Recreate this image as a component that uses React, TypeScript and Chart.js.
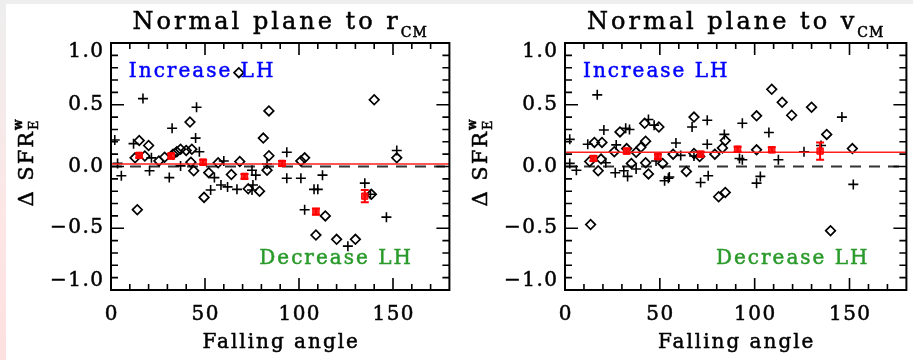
import React, { useEffect, useRef } from "react";
import { Chart, registerables } from "chart.js";

Chart.register(...registerables);

// ---------------- axes ----------------
const xRange = [0, 180];
const yRange = [-1, 1];
const xMajorTicks = [0, 50, 100, 150];
const xTickLabels = ["0", "50", "100", "150"];
const yMajorTicks = [-1, -0.5, 0, 0.5, 1];
const yTickLabels = ["\u22121.0", "\u22120.5", "0.0", "0.5", "1.0"];
const xTitle = "Falling angle";
const increaseText = "Increase LH";
const decreaseText = "Decrease LH";
const increaseAnchor = [9.5, 0.765];
const decreaseAnchor = [159.5, -0.75];

// ---------------- panel 1 : normal plane to r_CM ----------------
const rTitle = "Normal plane to r";
const rTitleSub = "CM";
const rDiamondX = [68, 140, 84, 42, 81, 15, 20, 43, 37, 40, 28.5, 33, 35, 12.8, 18, 25.5, 84, 103, 101, 152, 42.5, 57, 68.5, 44, 52, 64, 83, 14, 49.5, 73, 79, 114, 109, 120, 130, 138.5];
const rDiamondY = [0.76, 0.54, 0.45, 0.36, 0.23, 0.21, 0.17, 0.14, 0.14, 0.13, 0.075, 0.1, 0.12, 0.07, 0.085, 0.045, 0.087, 0.07, 0.045, 0.07, 0.035, 0.03, 0.04, -0.035, -0.05, -0.065, -0.03, -0.35, -0.25, -0.18, -0.2, -0.4, -0.555, -0.59, -0.59, -0.225];
const rPlusX = [17, 45.5, 32.5, 45, 2, 12, 152, 93.5, 47, 21.5, 60, 3.5, 37, 5.5, 20.5, 31, 55, 53, 58.5, 62, 67, 75, 75.5, 75, 77, 93.5, 101, 112.5, 108, 110, 103, 126, 135, 138, 146.5, 83];
const rPlusY = [0.55, 0.48, 0.31, 0.23, 0.215, 0.185, 0.13, 0.115, 0.12, 0.07, 0.045, 0.025, 0.005, -0.075, -0.035, -0.09, -0.09, -0.19, -0.15, -0.165, -0.185, -0.19, -0.15, -0.03, -0.07, -0.095, -0.095, -0.07, -0.185, -0.185, -0.35, -0.645, -0.135, -0.225, -0.41, 0.02];
const rMeanX = [15, 32, 49, 71, 91, 109, 135];
const rMeanY = [0.09, 0.085, 0.035, -0.08, 0.025, -0.365, -0.24];
const rMeanErr = [0.02, 0.02, 0.02, 0.02, 0.02, 0.025, 0.05];
const rLevel = 0.02;

// ---------------- panel 2 : normal plane to v_CM ----------------
const vTitle = "Normal plane to v";
const vTitleSub = "CM";
const vDiamondX = [109, 114.5, 130, 119.5, 101, 68, 42, 49.5, 29, 138, 42.5, 84.5, 15.5, 19.5, 83, 40, 26, 32.5, 37.5, 151.5, 101, 57, 68, 79, 19, 13, 35, 42.5, 51.5, 71, 64, 17.5, 44, 13.5, 140, 81, 84.5];
const vDiamondY = [0.625, 0.52, 0.48, 0.415, 0.41, 0.4, 0.35, 0.32, 0.28, 0.26, 0.205, 0.21, 0.195, 0.195, 0.15, 0.155, 0.12, 0.145, 0.115, 0.145, 0.135, 0.1, 0.105, 0.1, 0.06, 0.04, 0.025, 0.03, 0.025, 0.08, -0.04, -0.035, -0.06, -0.47, -0.52, -0.245, -0.21];
const vPlusX = [17, 44, 75, 146, 93.5, 67, 20.5, 32, 34, 107.5, 47, 2.5, 12, 27, 58.5, 75, 84, 135, 126, 61, 92, 93.5, 112.5, 21.5, 2.5, 6, 26.5, 31, 33, 37.5, 48, 55, 103, 75.5, 68, 52.5, 54.5, 71.5, 101, 152];
const vPlusY = [0.58, 0.38, 0.375, 0.4, 0.35, 0.32, 0.295, 0.31, 0.3, 0.275, 0.335, 0.22, 0.18, 0.175, 0.19, 0.18, 0.26, 0.17, 0.12, 0.09, 0.065, 0.055, 0.055, 0.03, 0.025, -0.03, -0.05, -0.035, -0.08, -0.02, 0.045, -0.085, -0.08, -0.075, 0.085, -0.115, -0.095, -0.13, -0.135, -0.145];
const vMeanX = [15, 32.5, 49, 71.5, 91, 109, 134.5];
const vMeanY = [0.065, 0.125, 0.08, 0.1, 0.14, 0.135, 0.125];
const vMeanErr = [0.02, 0.02, 0.02, 0.02, 0.02, 0.02, 0.07];
const vLevel = 0.115;

const FONT = '"DejaVu Serif", serif';

function pts(xs: number[], ys: number[]) {
  return xs.map((x, i) => ({ x, y: ys[i] }));
}

type PanelCfg = {
  title: string;
  titleSub: string;
  diaX: number[];
  diaY: number[];
  plusX: number[];
  plusY: number[];
  meanX: number[];
  meanY: number[];
  meanErr: number[];
  level: number;
};

function spacedText(ctx: CanvasRenderingContext2D, text: string, x: number, y: number, align: "left" | "center" | "right", spacing: number) {
  (ctx as any).letterSpacing = spacing + "px";
  let w = ctx.measureText(text).width;
  w -= spacing;
  let x0 = x;
  if (align === "center") x0 = x - w / 2;
  else if (align === "right") x0 = x - w;
  ctx.textAlign = "left";
  ctx.fillText(text, x0, y);
  ctx.strokeStyle = ctx.fillStyle as string;
  ctx.lineWidth = 0.5;
  ctx.strokeText(text, x0, y);
  (ctx as any).letterSpacing = "0px";
  return w;
}

function makePlugin(cfg: PanelCfg) {
  return {
    id: "idlFrame",
    afterDatasetsDraw(chart: any) {
      const { ctx, chartArea: a, scales } = chart;
      const xs = scales.x;
      const ys = scales.y;
      ctx.save();
      // error bars of the means
      ctx.strokeStyle = "rgb(255,0,0)";
      ctx.lineWidth = 2;
      cfg.meanX.forEach((mx, i) => {
        const px = xs.getPixelForValue(mx);
        const t = ys.getPixelForValue(cfg.meanY[i] + cfg.meanErr[i]);
        const b = ys.getPixelForValue(cfg.meanY[i] - cfg.meanErr[i]);
        ctx.beginPath();
        ctx.moveTo(px, t);
        ctx.lineTo(px, b);
        ctx.moveTo(px - 4, t);
        ctx.lineTo(px + 4, t);
        ctx.moveTo(px - 4, b);
        ctx.lineTo(px + 4, b);
        ctx.stroke();
      });
      // frame
      ctx.strokeStyle = "#000";
      ctx.lineWidth = 2;
      ctx.strokeRect(a.left, a.top, a.right - a.left, a.bottom - a.top);
      // ticks
      ctx.lineWidth = 1.6;
      ctx.beginPath();
      for (let i = 1; i < 18; i++) {
        const v = i * 10;
        const major = xMajorTicks.includes(v);
        const len = major ? 12 : 6;
        const px = xs.getPixelForValue(v);
        ctx.moveTo(px, a.bottom);
        ctx.lineTo(px, a.bottom - len);
        ctx.moveTo(px, a.top);
        ctx.lineTo(px, a.top + len);
      }
      for (let i = -9; i <= 9; i++) {
        const v = i / 10;
        const major = i % 5 === 0;
        const len = major ? 13 : 7;
        const py = ys.getPixelForValue(v);
        ctx.moveTo(a.left, py);
        ctx.lineTo(a.left + len, py);
        ctx.moveTo(a.right, py);
        ctx.lineTo(a.right - len, py);
      }
      ctx.stroke();
      ctx.restore();
    },
    afterDraw(chart: any) {
      const { ctx, chartArea: a, scales } = chart;
      const xs = scales.x;
      const ys = scales.y;
      const cx = (a.left + a.right) / 2;
      ctx.save();
      ctx.fillStyle = "#000";
      ctx.textBaseline = "alphabetic";
      // title
      ctx.font = `24px ${FONT}`;
      (ctx as any).letterSpacing = "3px";
      const wMain = ctx.measureText(cfg.title).width;
      ctx.font = `14px ${FONT}`;
      (ctx as any).letterSpacing = "1px";
      const wSub = ctx.measureText(cfg.titleSub).width;
      const tx = cx - (wMain + wSub) / 2;
      ctx.font = `24px ${FONT}`;
      spacedText(ctx, cfg.title, tx, 29, "left", 3);
      ctx.font = `14px ${FONT}`;
      spacedText(ctx, cfg.titleSub, tx + wMain, 37, "left", 1);

      // y tick labels
      ctx.font = `20px ${FONT}`;
      ctx.textBaseline = "middle";
      yMajorTicks.forEach((v, i) => {
        let py = ys.getPixelForValue(v);
        if (v === yRange[1]) py += 9;
        if (v === yRange[0]) py -= 9;
        spacedText(ctx, yTickLabels[i], a.left - 8, py, "right", 1.5);
      });
      // x tick labels
      xMajorTicks.forEach((v, i) => {
        spacedText(ctx, xTickLabels[i], xs.getPixelForValue(v), a.bottom + 25, "center", 1.5);
      });
      // x title
      spacedText(ctx, xTitle, cx, a.bottom + 53, "center", 2);

      // y title (rotated)
      ctx.save();
      ctx.translate(a.left - 78, (a.top + a.bottom) / 2 - 4);
      ctx.rotate(-Math.PI / 2);
      ctx.textBaseline = "alphabetic";
      ctx.font = `21px ${FONT}`;
      (ctx as any).letterSpacing = "2px";
      const wy = ctx.measureText("\u0394 SFR").width;
      ctx.font = `13px ${FONT}`;
      const wE = ctx.measureText("E").width;
      const y0 = -(wy + wE) / 2;
      ctx.font = `21px ${FONT}`;
      spacedText(ctx, "\u0394 SFR", y0, 0, "left", 2);
      ctx.font = `13px ${FONT}`;
      spacedText(ctx, "E", y0 + wy, 5, "left", 0);
      ctx.font = `bold 12px ${FONT}`;
      spacedText(ctx, "w", y0 + wy, -11, "left", 0);
      ctx.restore();

      // annotations
      ctx.font = `20px ${FONT}`;
      ctx.textBaseline = "middle";
      ctx.fillStyle = "#0000ff";
      spacedText(ctx, increaseText, xs.getPixelForValue(increaseAnchor[0]), ys.getPixelForValue(increaseAnchor[1]), "left", 2);
      ctx.fillStyle = "#2a9a2a";
      spacedText(ctx, decreaseText, xs.getPixelForValue(decreaseAnchor[0]), ys.getPixelForValue(decreaseAnchor[1]), "right", 2);
      ctx.restore();
    },
  };
}

function Panel({ cfg, left, width, padLeft, padRight }: { cfg: PanelCfg; left: number; width: number; padLeft: number; padRight: number }) {
  const ref = useRef<HTMLCanvasElement>(null);
  useEffect(() => {
    const canvas = ref.current!;
    const chart = new Chart(canvas, {
      type: "scatter",
      data: {
        datasets: [
          {
            type: "scatter",
            data: pts(cfg.meanX, cfg.meanY),
            pointStyle: "rect",
            pointRadius: 4.5,
            backgroundColor: "rgba(255,20,20,0.9)",
            borderColor: "rgb(255,0,0)",
            borderWidth: 1,
          },
          {
            type: "line",
            data: [
              { x: xRange[0], y: cfg.level },
              { x: xRange[1], y: cfg.level },
            ],
            borderColor: "rgb(255,30,30)",
            borderWidth: 1.6,
            pointRadius: 0,
            fill: false,
          },
          {
            type: "scatter",
            data: pts(cfg.plusX, cfg.plusY),
            pointStyle: "cross",
            pointRadius: 5,
            borderColor: "#000",
            borderWidth: 1.6,
          },
          {
            type: "scatter",
            data: pts(cfg.diaX, cfg.diaY),
            pointStyle: "rectRot",
            pointRadius: 4.8,
            backgroundColor: "rgba(0,0,0,0)",
            borderColor: "#000",
            borderWidth: 1.7,
          },
          {
            type: "line",
            data: [
              { x: xRange[0], y: 0 },
              { x: xRange[1], y: 0 },
            ],
            borderColor: "#333",
            borderWidth: 2,
            borderDash: [11, 8],
            pointRadius: 0,
            fill: false,
          },
        ],
      } as any,
      options: {
        responsive: false,
        animation: false,
        events: [],
        layout: { padding: { left: padLeft, right: padRight, top: 43, bottom: 70 } },
        plugins: { legend: { display: false }, tooltip: { enabled: false }, title: { display: false } },
        scales: {
          x: {
            type: "linear",
            min: xRange[0],
            max: xRange[1],
            grid: { display: false, drawTicks: false },
            border: { display: false },
            ticks: { display: false },
          },
          y: {
            type: "linear",
            min: yRange[0],
            max: yRange[1],
            grid: { display: false, drawTicks: false },
            border: { display: false },
            ticks: { display: false },
          },
        },
      } as any,
      plugins: [makePlugin(cfg) as any],
    });
    return () => chart.destroy();
  }, []);
  return (
    <canvas
      ref={ref}
      width={width}
      height={360}
      style={{ position: "absolute", left, top: 0, width, height: 360 }}
    />
  );
}

const rCfg: PanelCfg = {
  title: rTitle,
  titleSub: rTitleSub,
  diaX: rDiamondX,
  diaY: rDiamondY,
  plusX: rPlusX,
  plusY: rPlusY,
  meanX: rMeanX,
  meanY: rMeanY,
  meanErr: rMeanErr,
  level: rLevel,
};

const vCfg: PanelCfg = {
  title: vTitle,
  titleSub: vTitleSub,
  diaX: vDiamondX,
  diaY: vDiamondY,
  plusX: vPlusX,
  plusY: vPlusY,
  meanX: vMeanX,
  meanY: vMeanY,
  meanErr: vMeanErr,
  level: vLevel,
};

export default function App() {
  return (
    <div style={{ position: "fixed", left: 0, top: 0, width: 913, height: 360, background: "#fff", overflow: "hidden" }}>
      <Panel cfg={rCfg} left={0} width={456} padLeft={111} padRight={1} />
      <Panel cfg={vCfg} left={456} width={457} padLeft={109} padRight={4} />
      <div style={{ position: "absolute", left: 0, top: 0, width: 913, height: 4, background: "#eeeeee" }} />
      <div style={{ position: "absolute", left: 0, top: 0, width: 6, height: 360, background: "linear-gradient(#eeeeee, #fde6e6 60%, #fde0e0)" }} />
    </div>
  );
}
